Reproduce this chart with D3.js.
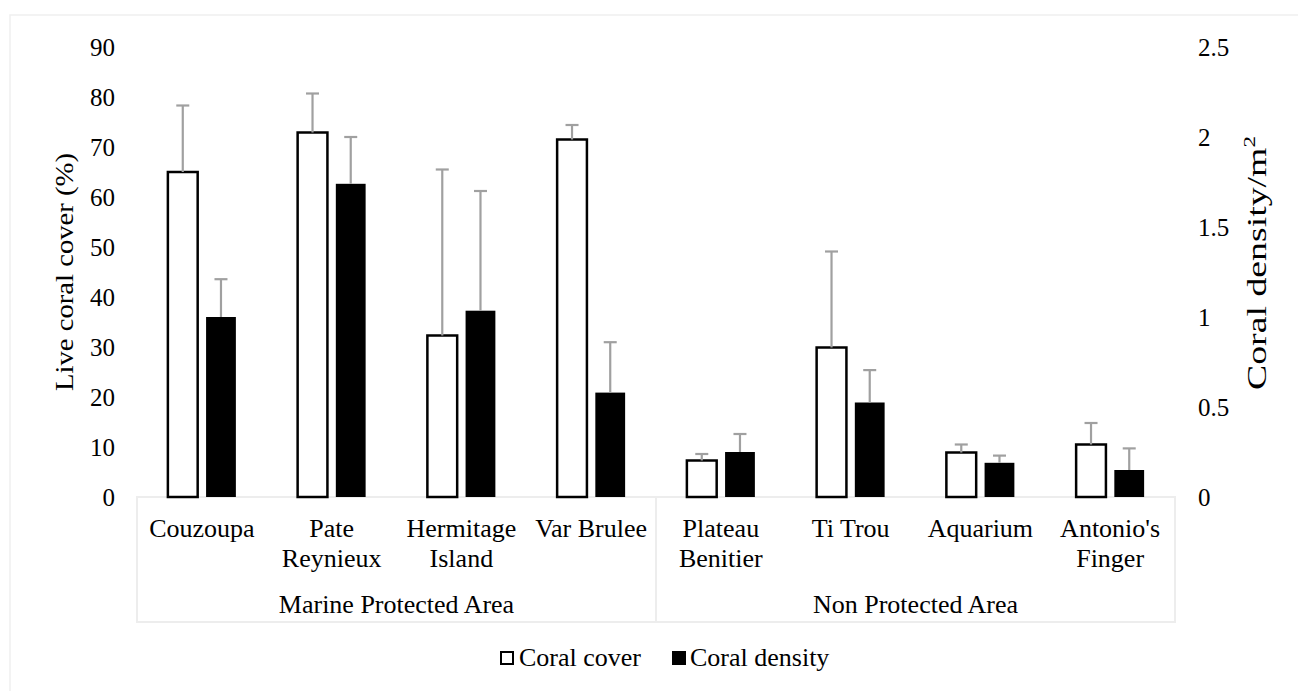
<!DOCTYPE html>
<html>
<head>
<meta charset="utf-8">
<script src="https://cdn.jsdelivr.net/npm/d3@7"></script>
<style>
  body { margin: 0; background: #fff; }
  svg { display: block; }
  text { font-family: "Liberation Serif", "Times New Roman", "DejaVu Serif", serif; fill: #000; }
</style>
</head>
<body>
<svg id="chart" width="1298" height="691" font-family="Liberation Serif, serif"></svg>
<script>
"use strict";

// Sites, grouped by protection status
const sites = ["Couzoupa", "Pate Reynieux", "Hermitage Island", "Var Brulee",
               "Plateau Benitier", "Ti Trou", "Aquarium", "Antonio's Finger"];
const siteLines = [["Couzoupa"], ["Pate", "Reynieux"], ["Hermitage", "Island"], ["Var Brulee"],
                   ["Plateau", "Benitier"], ["Ti Trou"], ["Aquarium"], ["Antonio's", "Finger"]];
const groupNames = ["Marine Protected Area", "Non Protected Area"];
const groupSizes = [4, 4];

// Live coral cover (%), left axis
const cover    = [65.0, 72.9, 32.3, 71.5, 7.3, 29.9, 8.9, 10.5];
const coverErr = [13.3,  7.8, 33.2,  2.9, 1.3, 19.2, 1.6,  4.3];
// Coral density per m2, right axis
const density    = [1.00, 1.74, 1.035, 0.58, 0.25, 0.525, 0.19, 0.15];
const densityErr = [0.21, 0.26, 0.665, 0.28, 0.10, 0.18,  0.04, 0.12];

const leftTicks = [0, 10, 20, 30, 40, 50, 60, 70, 80, 90];
const rightTicks = [0, 0.5, 1, 1.5, 2, 2.5];

const svg = d3.select('#chart');
const plot = { left: 137, right: 1175, top: 47, bottom: 497 };
const faint = '#ededed';

// outer chart border (only top and left show)
svg.append('path')
   .attr('d', `M10,691 V15 H1298`)
   .attr('fill', 'none')
   .attr('stroke', '#f0f0f0')
   .attr('stroke-width', 1.5);

const x = d3.scaleBand().domain(sites).range([plot.left, plot.right]);
const xSub = d3.scaleBand().domain(['cover', 'density'])
               .range([-34, 34]).paddingInner(0.22);
const yL = d3.scaleLinear().domain([0, 90]).range([plot.bottom, plot.top]);
const yR = d3.scaleLinear().domain([0, 2.5]).range([plot.bottom, plot.top]);

const center = s => x(s) + x.bandwidth() / 2;

// left ticks
svg.append('g')
   .selectAll('text')
   .data(leftTicks)
   .join('text')
   .attr('x', 115)
   .attr('y', d => yL(d))
   .attr('text-anchor', 'end')
   .attr('dominant-baseline', 'central')
   .attr('font-size', 25)
   .text(d => d);

// right ticks
svg.append('g')
   .selectAll('text')
   .data(rightTicks)
   .join('text')
   .attr('x', 1198)
   .attr('y', d => yR(d))
   .attr('dominant-baseline', 'central')
   .attr('font-size', 25)
   .text(d => d);

// axis titles
svg.append('text')
   .attr('transform', `translate(73, 272) rotate(-90)`)
   .attr('text-anchor', 'middle')
   .attr('font-size', 26)
   .attr('textLength', 238)
   .attr('lengthAdjust', 'spacingAndGlyphs')
   .text('Live coral cover (%)');

let rTitle = svg.append('text')
   .attr('transform', `translate(1266, 263) rotate(-90)`)
   .attr('text-anchor', 'middle')
   .attr('font-size', 28)
   .attr('textLength', 254)
   .attr('lengthAdjust', 'spacingAndGlyphs');
rTitle.append('tspan').text('Coral density/m');
rTitle.append('tspan').attr('font-size', 17).attr('dy', -11).text('2');

// category frame: baseline, group box, separators
let starts = [0];
groupSizes.forEach((n, i) => starts.push(starts[i] + n));
const frame = svg.append('g')
                 .attr('fill', 'none')
                 .attr('stroke', faint)
                 .attr('stroke-width', 2);
frame.append('rect')
     .attr('x', plot.left)
     .attr('y', plot.bottom)
     .attr('width', plot.right - plot.left)
     .attr('height', 125);
starts.slice(1, -1).forEach(k => {
  frame.append('line')
       .attr('x1', x(sites[k])).attr('x2', x(sites[k]))
       .attr('y1', plot.bottom).attr('y2', plot.bottom + 125);
});

// bars
const bars = svg.append('g');
bars.selectAll('rect.cover')
    .data(sites)
    .join('rect')
    .attr('class', 'cover')
    .attr('x', (s) => center(s) + xSub('cover'))
    .attr('y', (s, i) => yL(cover[i]))
    .attr('width', xSub.bandwidth())
    .attr('height', (s, i) => plot.bottom - yL(cover[i]))
    .attr('fill', '#fff')
    .attr('stroke', '#000')
    .attr('stroke-width', 2.5);

bars.selectAll('rect.density')
    .data(sites)
    .join('rect')
    .attr('class', 'density')
    .attr('x', (s) => center(s) + xSub('density'))
    .attr('y', (s, i) => yR(density[i]))
    .attr('width', xSub.bandwidth())
    .attr('height', (s, i) => plot.bottom - yR(density[i]))
    .attr('fill', '#000');

// error bars (upper only)
function errorBars(key, vals, errs, scale) {
  let g = svg.append('g')
             .attr('stroke', '#a0a0a0')
             .attr('stroke-width', 2.2);
  sites.forEach((s, i) => {
    let cx = center(s) + xSub(key) + xSub.bandwidth() / 2;
    let y0 = scale(vals[i]);
    let y1 = scale(vals[i] + errs[i]);
    g.append('line').attr('x1', cx).attr('x2', cx).attr('y1', y0).attr('y2', y1);
    g.append('line').attr('x1', cx - 6.5).attr('x2', cx + 6.5).attr('y1', y1).attr('y2', y1);
  });
}
errorBars('cover', cover, coverErr, yL);
errorBars('density', density, densityErr, yR);

// category labels
svg.append('g')
   .selectAll('text')
   .data(sites)
   .join('text')
   .attr('text-anchor', 'middle')
   .attr('font-size', 26)
   .each(function (s, i) {
     d3.select(this)
       .selectAll('tspan')
       .data(siteLines[i])
       .join('tspan')
       .attr('x', center(s))
       .attr('y', (l, j) => 537 + j * 30)
       .text(l => l);
   });

// group labels
svg.append('g')
   .selectAll('text')
   .data(groupNames)
   .join('text')
   .attr('x', (g, i) => (x(sites[starts[i]]) + x(sites[starts[i + 1] - 1]) + x.bandwidth()) / 2)
   .attr('y', 613)
   .attr('text-anchor', 'middle')
   .attr('font-size', 26)
   .text(g => g);

// legend
const legend = svg.append('g');
legend.append('rect')
      .attr('x', 501).attr('y', 652).attr('width', 12).attr('height', 12)
      .attr('fill', '#fff').attr('stroke', '#000').attr('stroke-width', 2);
legend.append('text')
      .attr('x', 519).attr('y', 666).attr('font-size', 26).text('Coral cover');
legend.append('rect')
      .attr('x', 672).attr('y', 651).attr('width', 14).attr('height', 14)
      .attr('fill', '#000');
legend.append('text')
      .attr('x', 690).attr('y', 666).attr('font-size', 26).text('Coral density');
</script>
</body>
</html>
